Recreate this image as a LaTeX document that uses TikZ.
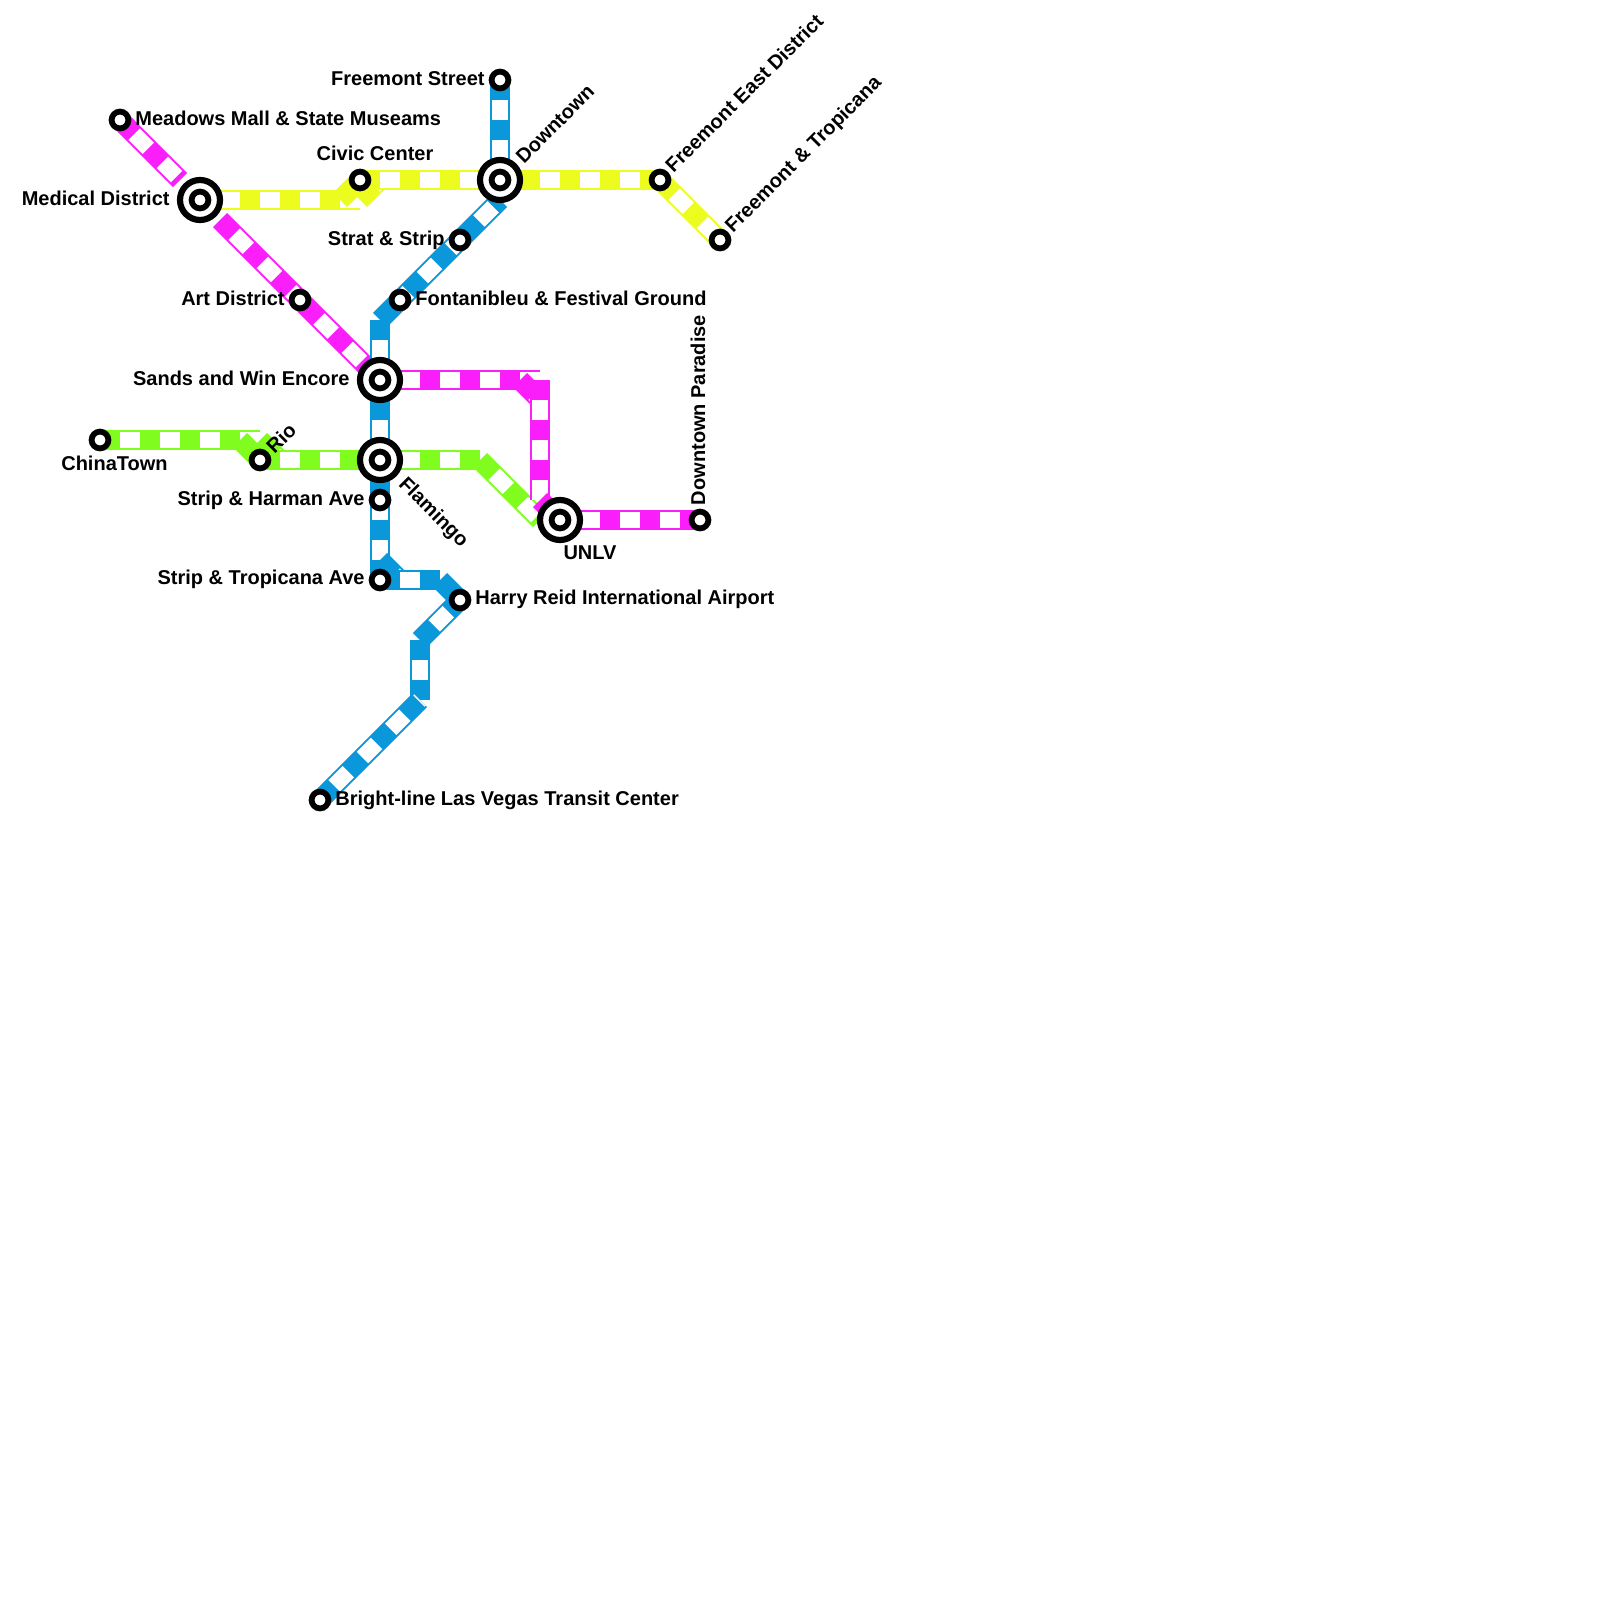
\documentclass[tikz,border=0pt]{standalone}
\usepackage{fontspec}
\setmainfont{Liberation Sans}
\usepackage{xcolor}
\usepackage{tikz}
\usetikzlibrary{backgrounds}

\definecolor{metroblue}{RGB}{10,152,218}
\definecolor{metroyellow}{RGB}{235,252,30}
\definecolor{metropink}{RGB}{250,30,250}
\definecolor{metrogreen}{RGB}{128,252,30}

\tikzset{
    track/.style={draw=#1, line width=10pt,
        postaction={draw=white, line width=8pt, dash pattern=on 10pt off 10pt, dash phase=10pt}},
    stop/.style={circle, draw=black, fill=white, line width=2.9pt, minimum size=8.4pt, inner sep=0pt},
    hub/.style={circle, draw=black, fill=white, line width=3.1pt, minimum size=20pt, inner sep=0pt},
    stoplabel/.style={font=\fontsize{10}{12}\selectfont\bfseries, text=black, inner sep=0pt}
}

\begin{document}
\begin{tikzpicture}[x=0.5pt, y=-0.5pt]
    \useasboundingbox (0,0) rectangle (1600,1600);

    % hubs, then the stops
    \node[hub] (medicalhub)  at (200,200) {};
    \node[hub] (downtownhub) at (500,180) {};
    \node[hub] (sandshub)    at (380,380) {};
    \node[hub] (flamingohub) at (380,460) {};
    \node[hub] (unlvhub)     at (560,520) {};

    \node[stop] (medical)   at (200,200) {};
    \node[stop] (downtown)  at (500,180) {};
    \node[stop] (sands)     at (380,380) {};
    \node[stop] (flamingo)  at (380,460) {};
    \node[stop] (unlv)      at (560,520) {};
    \node[stop] (meadows)   at (120,120) {};
    \node[stop] (civic)     at (360,180) {};
    \node[stop] (fremont)   at (500, 80) {};
    \node[stop] (fremeast)  at (660,180) {};
    \node[stop] (fremtrop)  at (720,240) {};
    \node[stop] (strat)     at (460,240) {};
    \node[stop] (fontain)   at (400,300) {};
    \node[stop] (art)       at (300,300) {};
    \node[stop] (rio)       at (260,460) {};
    \node[stop] (china)     at (100,440) {};
    \node[stop] (harman)    at (380,500) {};
    \node[stop] (striptrop) at (380,580) {};
    \node[stop] (airport)   at (460,600) {};
    \node[stop] (brightline) at (320,800) {};
    \node[stop] (paradise)  at (700,520) {};

    % bends
    \coordinate (medA)   at (180,180);
    \coordinate (medB)   at (220,220);
    \coordinate (civA)   at (340,200);
    \coordinate (civB)   at (360,200);
    \coordinate (civC)   at (380,180);
    \coordinate (dtA)    at (500,200);
    \coordinate (blueA)  at (380,320);
    \coordinate (blueB)  at (380,560);
    \coordinate (blueC)  at (400,580);
    \coordinate (blueD)  at (440,580);
    \coordinate (blueE)  at (420,640);
    \coordinate (blueF)  at (420,700);
    \coordinate (rioA)   at (260,440);
    \coordinate (rioB)   at (240,440);
    \coordinate (rioC)   at (280,460);
    \coordinate (greenA) at (480,460);
    \coordinate (greenB) at (540,520);
    \coordinate (pinkA)  at (540,380);
    \coordinate (pinkB)  at (520,380);
    \coordinate (pinkC)  at (540,400);
    \coordinate (pinkD)  at (540,500);

    \begin{scope}[on background layer]
        \draw[track=metrogreen] (china.center) -- (rioA);
        \draw[track=metrogreen] (rioB) -- (rio.center);
        \draw[track=metrogreen] (rioA) -- (rioC);
        \draw[track=metrogreen] (rio.center) -- (flamingo.center);
        \draw[track=metrogreen] (flamingo.center) -- (greenA);
        \draw[track=metrogreen] (greenA) -- (greenB);

        \draw[track=metroyellow] (medical.center) -- (civB);
        \draw[track=metroyellow] (civA) -- (civic.center);
        \draw[track=metroyellow] (civB) -- (civC);
        \draw[track=metroyellow] (civic.center) -- (fremeast.center);
        \draw[track=metroyellow] (fremeast.center) -- (fremtrop.center);

        \draw[track=metropink] (meadows.center) -- (medA);
        \draw[track=metropink] (medB) -- (sands.center);
        \draw[track=metropink] (sands.center) -- (pinkA);
        \draw[track=metropink] (pinkB) -- (pinkC);
        \draw[track=metropink] (pinkA) -- (pinkD);
        \draw[track=metropink] (pinkD) -- (unlv.center);
        \draw[track=metropink] (unlv.center) -- (paradise.center);

        \draw[track=metroblue] (fremont.center) -- (downtown.center);
        \draw[track=metroblue] (blueA) -- (dtA);
        \draw[track=metroblue] (blueA) -- (striptrop.center);
        \draw[track=metroblue] (blueB) -- (blueC);
        \draw[track=metroblue] (striptrop.center) -- (blueD);
        \draw[track=metroblue] (blueD) -- (airport.center);
        \draw[track=metroblue] (blueE) -- (airport.center);
        \draw[track=metroblue] (blueE) -- (blueF);
        \draw[track=metroblue] (brightline.center) -- (blueF);
    \end{scope}

    \node[stoplabel, anchor=east] (lblfremont)  at (485, 79) {Freemont Street};
    \node[stoplabel, anchor=west] (lblmeadows)  at (135,118) {Meadows Mall \& State Museams};
    \node[stoplabel]              (lblcivic)    at (375,153) {Civic Center};
    \node[stoplabel, anchor=east] (lblmedical)  at (170,198) {Medical District};
    \node[stoplabel, anchor=east] (lblstrat)    at (445,240) {Strat \& Strip};
    \node[stoplabel, anchor=east] (lblart)      at (285,298) {Art District};
    \node[stoplabel, anchor=west] (lblfontain)  at (415,298) {Fontanibleu \& Festival Ground};
    \node[stoplabel, anchor=east] (lblsands)    at (350,378) {Sands and Win Encore};
    \node[stoplabel, anchor=east] (lblchina)    at (168,463) {ChinaTown};
    \node[stoplabel, anchor=east] (lblharman)   at (365,500) {Strip \& Harman Ave};
    \node[stoplabel, anchor=east] (lblstriptrop) at (365,579) {Strip \& Tropicana Ave};
    \node[stoplabel, anchor=west] (lblairport)  at (475,599) {Harry Reid International Airport};
    \node[stoplabel, anchor=west] (lblbright)   at (335,800) {Bright-line Las Vegas Transit Center};
    \node[stoplabel]              (lblunlv)     at (590,553) {UNLV};

    \node[stoplabel, rotate=45]  (lblrio)      at (281,438) {Rio};
    \node[stoplabel, rotate=-45] (lblflamingo) at (433,513) {Flamingo};
    \node[stoplabel, rotate=45]  (lbldowntown) at (555,124) {Downtown};
    \node[stoplabel, rotate=45]  (lblfremeast) at (744, 93) {Freemont East District};
    \node[stoplabel, rotate=45]  (lblfremtrop) at (804,155) {Freemont \& Tropicana};
    \node[stoplabel, rotate=90]  (lblparadise) at (698,410) {Downtown Paradise};
\end{tikzpicture}
\end{document}
